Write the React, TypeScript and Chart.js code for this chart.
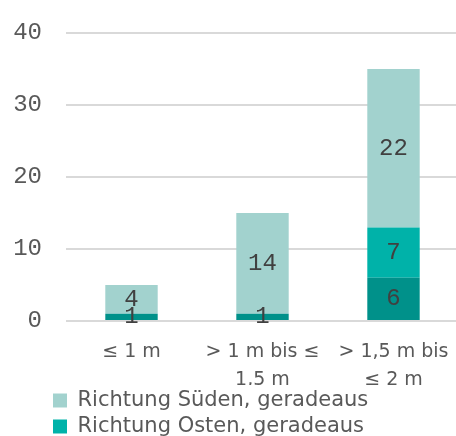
import React, { useEffect, useRef } from "react";
import { Chart, registerables } from "chart.js";

Chart.register(...registerables);

const categories: string[][] = [["≤ 1 m"], ["> 1 m bis ≤", "1,5 m"], ["> 1,5 m bis", "≤ 2 m"]];
const seriesNames = ["Richtung Westen, geradeaus", "Richtung Osten, geradeaus", "Richtung Süden, geradeaus"];
const westen = [1, 1, 6];
const osten = [0, 0, 7];
const sueden = [4, 14, 22];
const yMin = 0;
const yMax = 40;
const yStep = 10;

const colors = ["#00918A", "#00B2A9", "#A2D2CE"];
const LEGEND_LEFT = 48;

const valueLabels = {
  id: "valueLabels",
  afterDatasetsDraw(chart: any) {
    const ctx = chart.ctx;
    ctx.save();
    ctx.font = "24px 'Liberation Mono'";
    ctx.fillStyle = "#404040";
    ctx.textAlign = "center";
    ctx.textBaseline = "middle";
    chart.data.datasets.forEach((ds: any, i: number) => {
      const meta = chart.getDatasetMeta(i);
      if (meta.hidden) return;
      meta.data.forEach((el: any, j: number) => {
        const v = ds.data[j];
        if (!v) return;
        const { x, y, base } = el.getProps(["x", "y", "base"], true);
        ctx.fillText(String(v), x, (y + base) / 2);
      });
    });
    ctx.restore();
  },
};

const legendShift = {
  id: "legendShift",
  afterLayout(chart: any) {
    if (chart.legend) chart.legend.left = LEGEND_LEFT;
  },
};

export default function App() {
  const ref = useRef<HTMLCanvasElement>(null);
  useEffect(() => {
    if (!ref.current) return;
    const chart = new Chart(ref.current, {
      type: "bar",
      data: {
        labels: categories,
        datasets: [
          { label: seriesNames[0], data: westen, backgroundColor: colors[0] },
          { label: seriesNames[1], data: osten, backgroundColor: colors[1] },
          { label: seriesNames[2], data: sueden, backgroundColor: colors[2] },
        ],
      },
      options: {
        animation: false,
        responsive: true,
        maintainAspectRatio: false,
        datasets: { bar: { barPercentage: 0.4, categoryPercentage: 1, borderWidth: 0 } },
        layout: { padding: { left: 0, top: 33, right: 0, bottom: 0 } },
        plugins: {
          title: { display: false },
          tooltip: { enabled: false },
          legend: {
            position: "bottom",
            align: "start",
            reverse: true,
            labels: {
              boxWidth: 14,
              boxHeight: 14,
              padding: 5,
              color: "#595959",
              font: { family: "'DejaVu Sans'", size: 21 },
            },
          },
        },
        scales: {
          x: {
            stacked: true,
            grid: { display: false, drawTicks: false },
            border: { display: false },
            ticks: {
              color: "#595959",
              padding: 17,
              maxRotation: 0,
              autoSkip: false,
              font: { family: "'DejaVu Sans'", size: 19, lineHeight: 1.4737 },
            },
            afterFit: (s: any) => {
              s.height = 64;
              s.paddingLeft = 0;
              s.paddingRight = 0;
            },
          },
          y: {
            stacked: true,
            min: yMin,
            max: yMax,
            grid: { color: "#D9D9D9", lineWidth: 2, drawTicks: false },
            border: { display: false },
            ticks: {
              stepSize: yStep,
              color: "#595959",
              padding: 24,
              font: { family: "'Liberation Mono'", size: 24 },
            },
            afterFit: (s: any) => {
              s.width = 66;
              s.paddingTop = 0;
              s.paddingBottom = 0;
            },
          },
        },
      },
      plugins: [valueLabels, legendShift],
    });
    return () => chart.destroy();
  }, []);

  return (
    <div
      style={{
        position: "fixed",
        left: 0,
        top: 0,
        width: 456,
        height: 436,
        overflow: "hidden",
        background: "#fff",
      }}
    >
      <div style={{ position: "absolute", left: 0, top: 0, width: 459, height: 473 }}>
        <canvas ref={ref} />
      </div>
    </div>
  );
}
